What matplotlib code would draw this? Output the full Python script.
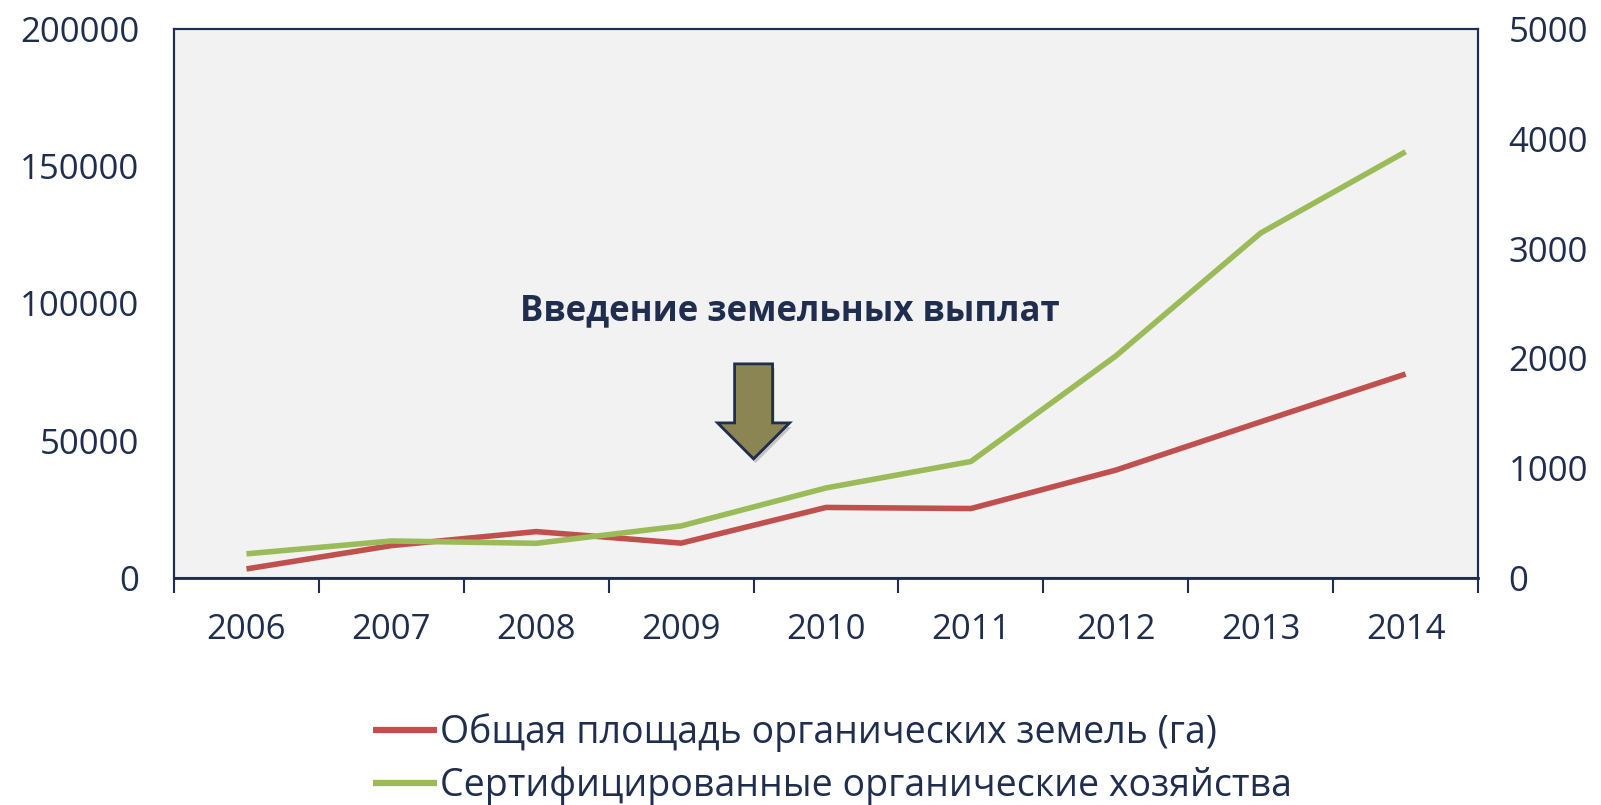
import matplotlib.pyplot as plt
import matplotlib.patheffects as pe
from matplotlib.patches import FancyArrow
import numpy as np

# data
years = ['2006', '2007', '2008', '2009', '2010', '2011', '2012', '2013', '2014']
area_ha = [3300, 11800, 16900, 12700, 25700, 25300, 39300, 56900, 74300]
farms = [220, 337, 316, 474, 820, 1061, 2022, 3142, 3882]
area_label = 'Общая площадь органических земель (га)'
farms_label = 'Сертифицированные органические хозяйства'
note = 'Введение земельных выплат'

navy = '#1F2D4E'
red = '#C0504D'
green = '#9BBB59'
Size = 25

plt.rcParams['font.family'] = ['Open Sans', 'DejaVu Sans']

fig = plt.figure(figsize=(16.01, 8.05), dpi=100)
ax = fig.add_axes([0.1087, 0.282, 0.8145, 0.682])
ax2 = ax.twinx()   # right scale + grey background
ax.set_zorder(ax2.get_zorder() + 1)
ax.patch.set_visible(False)
ax2.patch.set_facecolor('#F2F2F2')
ax2.patch.set_visible(True)

x = np.arange(len(years))
l1, = ax.plot(x, area_ha, color=red, linewidth=4, solid_capstyle='butt', label=area_label, zorder=3)
# green series on the right scale, drawn above the background
ax_g = ax.twinx()
ax_g.set_ylim(0, 5000)
ax_g.axis('off')
l2, = ax_g.plot(x, farms, color=green, linewidth=4, solid_capstyle='butt', label=farms_label)

ax.set_xlim(-0.5, len(years) - 0.5)
ax.set_ylim(0, 200000)
ax2.set_ylim(0, 5000)
ax.set_yticks(np.arange(0, 200001, 50000))
ax2.set_yticks(np.arange(0, 5001, 1000))
ax.set_xticks(x)
ax.set_xticklabels(years)
ax.set_xticks(np.arange(-0.5, len(years)), minor=True)

ax.tick_params(axis='x', which='major', length=0, pad=25, labelsize=Size, labelcolor=navy)
ax.tick_params(axis='x', which='minor', length=11, width=1.5, color=navy, direction='out')
ax.tick_params(axis='y', length=0, pad=25, labelsize=Size, labelcolor=navy)
ax2.tick_params(axis='y', length=0, pad=22, labelsize=Size, labelcolor=navy)
for a in (ax, ax2):
    for s in a.spines.values():
        s.set_color(navy)
        s.set_linewidth(1.5)
ax.spines['bottom'].set_linewidth(2)

# arrow and note
arr = FancyArrow(3.5, 78000, 0, -34600, width=0.262, head_width=0.497, head_length=13100,
                 length_includes_head=True, facecolor='#8B8553', edgecolor=navy, linewidth=2, zorder=4)
arr.set_path_effects([pe.SimplePatchShadow(offset=(1.5, -3), alpha=0.22), pe.Normal()])
ax.add_patch(arr)
ax.text(3.75, 97000, note, ha='center', va='center', fontsize=Size, fontweight='bold', color=navy)

leg = fig.legend([l1, l2], [area_label, farms_label], loc='center', bbox_to_anchor=(0.52, 0.057),
                 frameon=False, fontsize=27, labelcolor=navy, handlelength=1.7, handletextpad=0.1,
                 labelspacing=0.4)
for h in leg.get_lines():
    h.set_linewidth(4.5)

fig.savefig('out.png', dpi=100)
